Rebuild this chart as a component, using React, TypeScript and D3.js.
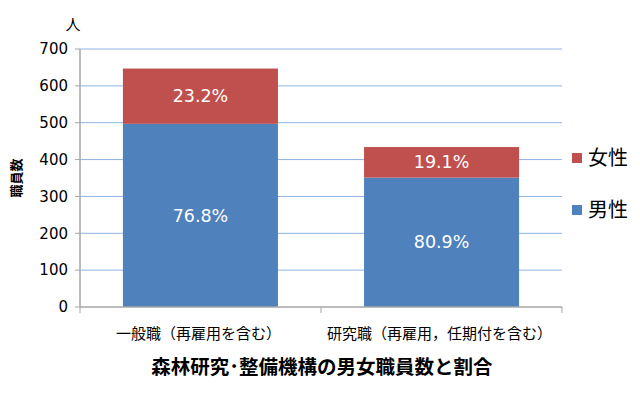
import React from "react";
import * as d3 from "d3";

const categories = ["一般職（再雇用を含む）", "研究職（再雇用，任期付を含む）"];
const male = [497, 351];
const female = [150, 83];
const yTicks = [0, 100, 200, 300, 400, 500, 600, 700];
const seriesNames = ["女性", "男性"];

const W = 640;
const H = 403;
const margin = { top: 49, right: 78, bottom: 96, left: 80 };
const font = "'Noto Sans CJK JP', 'Noto Sans', sans-serif";
const numFont = "'DejaVu Sans', 'Noto Sans CJK JP', sans-serif";

export default function App() {
  const x = d3
    .scaleBand()
    .domain(categories)
    .range([margin.left, W - margin.right])
    .paddingInner(0.357)
    .paddingOuter(0.178);
  const xb = d3.scaleBand().domain(categories).range([margin.left, W - margin.right]);
  const y = d3.scaleLinear().domain([0, 700]).range([H - margin.bottom, margin.top]);

  const stack = d3
    .stack<any>()
    .keys(["male", "female"])(categories.map((c, i) => ({ cat: c, male: male[i], female: female[i] })));
  const colors: Record<string, string> = { male: "#4F81BD", female: "#C0504D" };

  return (
    <svg width={W} height={H} style={{ position: "absolute", left: 0, top: 0, background: "#fff" }}>
      {yTicks.map((t) => (
        <g key={t}>
          {t > 0 && (
            <line x1={margin.left} x2={W - margin.right} y1={y(t)} y2={y(t)} stroke="#8EB4E3" strokeWidth={1} />
          )}
          <line x1={margin.left - 5} x2={margin.left} y1={y(t)} y2={y(t)} stroke="#A6A6A6" />
          <text x={margin.left - 12} y={y(t)} dy="0.35em" textAnchor="end" fontSize={15} fontFamily={numFont} fill="#000">
            {t}
          </text>
        </g>
      ))}
      {stack.map((s) => (
        <g key={s.key}>
          {s.map((d, i) => {
            const total = male[i] + female[i];
            const val = d[1] - d[0];
            return (
              <g key={i}>
                <rect x={x(categories[i])} width={x.bandwidth()} y={y(d[1])} height={y(d[0]) - y(d[1])} fill={colors[s.key]} />
                <text
                  x={x(categories[i])! + x.bandwidth() / 2}
                  y={(y(d[0]) + y(d[1])) / 2}
                  dy="0.35em"
                  textAnchor="middle"
                  fontSize={17.5}
                  fontFamily={numFont}
                  fill="#fff"
                >
                  {((val / total) * 100).toFixed(1)}%
                </text>
              </g>
            );
          })}
        </g>
      ))}
      <line x1={margin.left} x2={margin.left} y1={margin.top} y2={y(0)} stroke="#A6A6A6" strokeWidth={1.5} />
      <line x1={margin.left} x2={W - margin.right} y1={y(0)} y2={y(0)} stroke="#A6A6A6" strokeWidth={1.5} />
      {[...categories.map((c) => xb(c)!), W - margin.right].map((px, i) => (
        <line key={i} x1={px} x2={px} y1={y(0)} y2={y(0) + 6} stroke="#A6A6A6" />
      ))}
      {categories.map((c) => (
        <text key={c} x={xb(c)! + xb.bandwidth() / 2 - 2} y={334} dy="0.35em" textAnchor="middle" fontSize={15} fontFamily={font}>
          {c}
        </text>
      ))}
      <text x={73} y={30} fontSize={15} fontFamily={font} textAnchor="middle">人</text>
      <text transform={`translate(16,${178}) rotate(-90)`} textAnchor="middle" dy="0.35em" fontSize={13} fontWeight="bold" fontFamily={font}>
        職員数
      </text>
      {seriesNames.map((n, i) => (
        <g key={n} transform={`translate(572,${158 + i * 52})`}>
          <rect x={0} y={-5} width={10} height={10} fill={n === "女性" ? colors.female : colors.male} />
          <text x={16} y={0} dy="0.35em" fontSize={20} fontFamily={font}>{n}</text>
        </g>
      ))}
      <text x={322} y={367} dy="0.35em" textAnchor="middle" fontSize={19.5} fontWeight="bold" fontFamily={font}>
        森林研究･整備機構の男女職員数と割合
      </text>
    </svg>
  );
}
